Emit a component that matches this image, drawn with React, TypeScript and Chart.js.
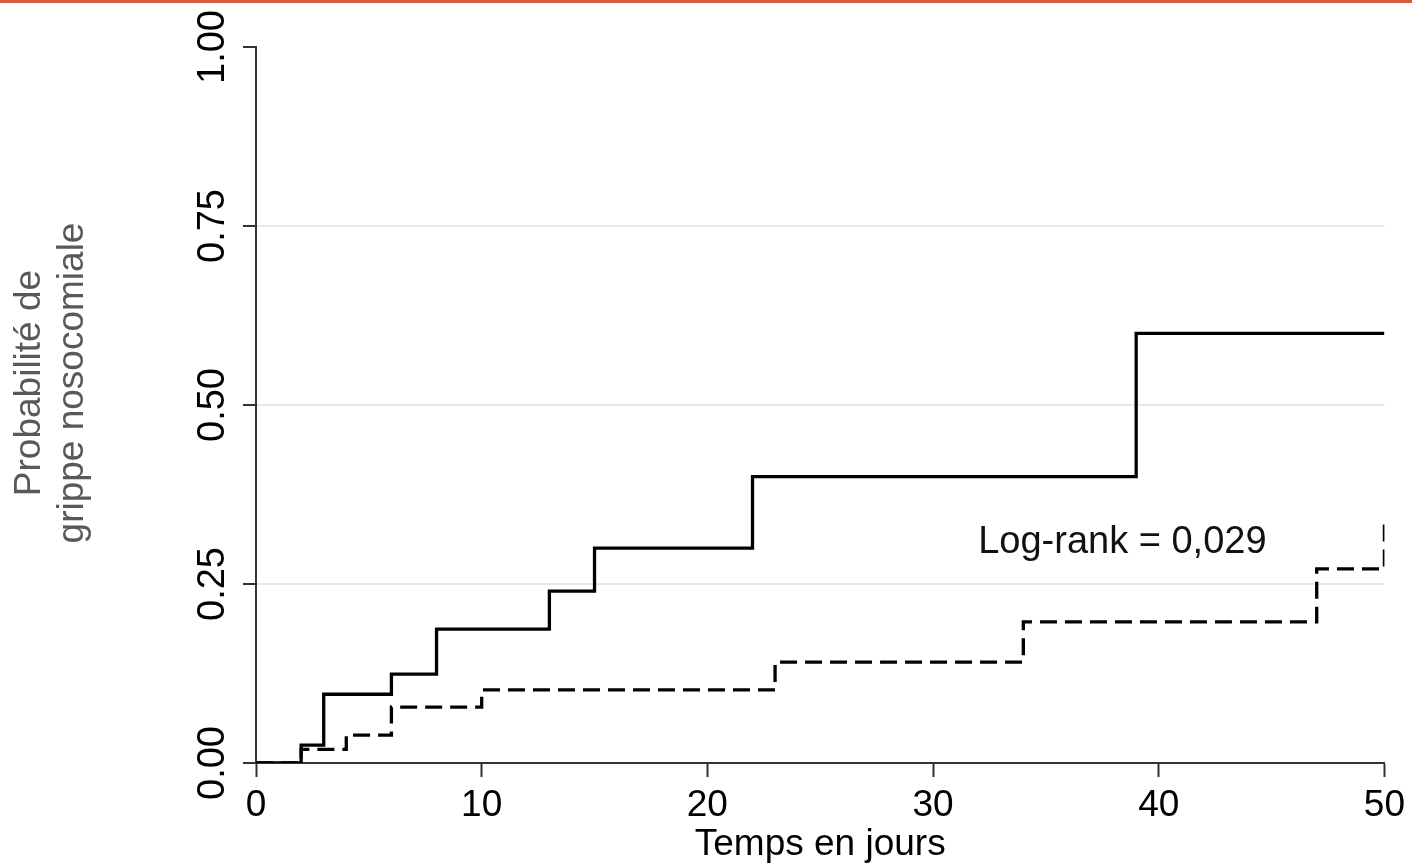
import React, { useEffect, useRef } from "react";
import { Chart, registerables } from "chart.js";

Chart.register(...registerables);

// Kaplan-Meier style cumulative probability (step curves)
const solidTimes = [0, 2, 3, 6, 8, 13, 15, 22, 39, 50];
const solidProb = [0, 0.025, 0.096, 0.124, 0.187, 0.24, 0.3, 0.4, 0.6, 0.6];
const dashedTimes = [0, 2, 4, 6, 10, 23, 34, 47, 50];
const dashedProb = [0, 0.019, 0.039, 0.078, 0.102, 0.141, 0.197, 0.271, 0.34];

const yTicks = [0, 0.25, 0.5, 0.75, 1];
const xTitle = "Temps en jours";
const yTitleLines = ["Probabilité de", "grippe nosocomiale"];
const annotationText = "Log-rank = 0,029";
const annotationPos = { x: 32, y: 0.293 };

const FONT = "'Liberation Sans', Arial, sans-serif";

export default function App() {
  const canvasRef = useRef<HTMLCanvasElement | null>(null);

  useEffect(() => {
    if (!canvasRef.current) return;
    const textPlugin = {
      id: "extraText",
      afterDraw(chart: any) {
        const ctx = chart.ctx;
        const xs = chart.scales.x;
        const ys = chart.scales.y;
        ctx.save();
        // annotation
        ctx.font = `38px ${FONT}`;
        ctx.fillStyle = "#111";
        ctx.textAlign = "left";
        ctx.textBaseline = "alphabetic";
        ctx.fillText(annotationText, xs.getPixelForValue(annotationPos.x), ys.getPixelForValue(annotationPos.y));
        // y title (two rotated lines)
        ctx.font = `37px ${FONT}`;
        ctx.fillStyle = "#595959";
        ctx.textAlign = "center";
        ctx.textBaseline = "middle";
        const cy = 383;
        const xsPos = [30, 73];
        yTitleLines.forEach((line, i) => {
          ctx.save();
          ctx.translate(xsPos[i], cy);
          ctx.rotate(-Math.PI / 2);
          ctx.fillText(line, 0, 0);
          ctx.restore();
        });
        ctx.restore();
      },
    };

    const chart = new Chart(canvasRef.current, {
      type: "line",
      data: {
        datasets: [
          {
            label: "solid",
            data: solidTimes.map((t, i) => ({ x: t, y: solidProb[i] })),
            stepped: "before",
            borderColor: "#000",
            borderWidth: 3.3,
            pointRadius: 0,
            fill: false,
            borderJoinStyle: "miter",
          },
          {
            label: "dashed",
            data: dashedTimes.map((t, i) => ({ x: t, y: dashedProb[i] })),
            stepped: "before",
            borderColor: "#000",
            borderWidth: 3.3,
            borderDash: [17, 8],
            pointRadius: 0,
            fill: false,
            borderJoinStyle: "miter",
          },
        ],
      },
      options: {
        animation: false,
        responsive: true,
        maintainAspectRatio: false,
        layout: { padding: { top: 47, right: 27, left: 0, bottom: 0 } },
        plugins: { legend: { display: false }, tooltip: { enabled: false } },
        scales: {
          x: {
            type: "linear",
            min: 0,
            max: 50,
            ticks: {
              stepSize: 10,
              color: "#000",
              font: { family: FONT, size: 37, lineHeight: 1.2 },
              padding: 7,
              maxRotation: 0,
            },
            grid: {
              drawOnChartArea: false,
              drawTicks: true,
              tickLength: 14,
              tickColor: "#333",
              tickWidth: 2,
            },
            border: { display: true, color: "#333", width: 2 },
            title: {
              display: true,
              text: xTitle,
              color: "#000",
              font: { family: FONT, size: 37, lineHeight: 1.2 },
              padding: { top: 0, bottom: 1 },
            },
            afterFit(scale: any) {
              scale.height = 105;
            },
          },
          y: {
            type: "linear",
            min: 0,
            max: 1,
            afterBuildTicks(scale: any) {
              scale.ticks = yTicks.map((v) => ({ value: v }));
            },
            ticks: {
              color: "#000",
              font: { family: FONT, size: 38, lineHeight: 1.2 },
              minRotation: 90,
              maxRotation: 90,
              crossAlign: "center",
              padding: -7,
              callback: (v: any) => Number(v).toFixed(2),
            },
            grid: {
              drawOnChartArea: true,
              color: (c: any) => (c.tick && (c.tick.value === 0 || c.tick.value === 1) ? "rgba(0,0,0,0)" : "#e2eaea"),
              lineWidth: 2,
              tickLength: 13,
              tickColor: "#333",
              tickWidth: 2,
            },
            border: { display: true, color: "#333", width: 2 },
            afterFit(scale: any) {
              scale.width = 256;
            },
          },
        },
      },
      plugins: [textPlugin],
    } as any);
    return () => chart.destroy();
  }, []);

  return (
    <div style={{ position: "fixed", left: 0, top: 0, width: 1412, height: 868, background: "#fff" }}>
      <canvas ref={canvasRef} />
      <div style={{ position: "absolute", left: 0, top: 0, width: "100%", height: 3, background: "#d75b3d" }} />
    </div>
  );
}
